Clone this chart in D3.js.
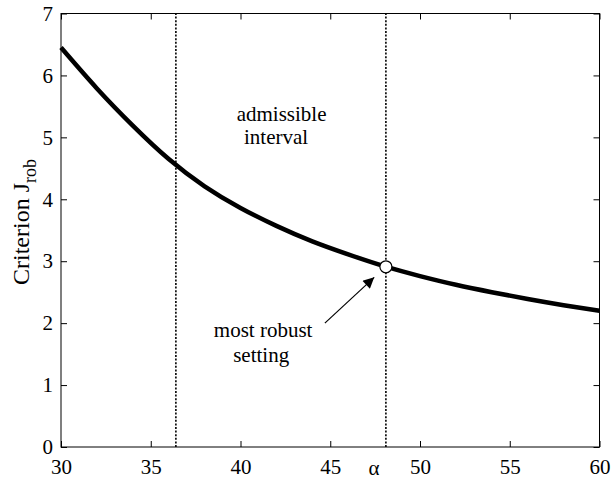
<!DOCTYPE html>
<html>
<head>
<meta charset="utf-8">
<script src="https://cdn.jsdelivr.net/npm/d3@7"></script>
<style>
  html, body { margin: 0; padding: 0; background: #fff; }
  svg { display: block; }
  svg text { font-family: "Liberation Serif", "DejaVu Serif", serif; fill: #000; }
</style>
</head>
<body>
<svg id="chart" width="611" height="481"></svg>
<script>
// Robustness criterion versus the tuning parameter alpha
const alphaValues = [30, 32, 34, 36, 38, 40, 42, 44, 46, 48, 50, 52, 54, 56, 58, 60];
const criterionValues = [6.45, 5.79, 5.19, 4.65, 4.21, 3.86, 3.57, 3.32, 3.11, 2.92, 2.76, 2.62, 2.50, 2.39, 2.29, 2.20];
const xTicks = [30, 35, 40, 45, 50, 55, 60];
const yTicks = [0, 1, 2, 3, 4, 5, 6, 7];
const intervalBounds = [36.4, 48.1];
const optimum = { alpha: 48.1, value: 2.91 };

const serif = "'Liberation Serif', 'DejaVu Serif', serif";
const svg = d3.select("#chart").attr("font-family", serif);
const plot = { left: 61, right: 599.5, top: 13.5, bottom: 447 };

const x = d3.scaleLinear().domain([30, 60]).range([plot.left, plot.right]);
const y = d3.scaleLinear().domain([0, 7]).range([plot.bottom, plot.top]);

const tickLen = 6;
const fmt = d3.format("d");

// Axes with inward ticks on all four sides
svg.append("g").attr("transform", `translate(0,${y(0)})`)
  .call(d3.axisBottom(x).tickValues(xTicks).tickFormat(fmt).tickSizeInner(-tickLen).tickSizeOuter(0).tickPadding(12))
  .call(g => g.select(".domain").remove());
svg.append("g").attr("transform", `translate(0,${y(7)})`)
  .call(d3.axisTop(x).tickValues(xTicks).tickSizeInner(-tickLen).tickSizeOuter(0).tickFormat(""))
  .call(g => g.select(".domain").remove());
svg.append("g").attr("transform", `translate(${x(30)},0)`)
  .call(d3.axisLeft(y).tickValues(yTicks).tickFormat(fmt).tickSizeInner(-tickLen).tickSizeOuter(0).tickPadding(8))
  .call(g => g.select(".domain").remove());
svg.append("g").attr("transform", `translate(${x(60)},0)`)
  .call(d3.axisRight(y).tickValues(yTicks).tickSizeInner(-tickLen).tickSizeOuter(0).tickFormat(""))
  .call(g => g.select(".domain").remove());

svg.selectAll("g").attr("font-family", serif).attr("font-size", null);
svg.selectAll(".tick line").attr("stroke", "#000").attr("stroke-width", 1);
svg.selectAll(".tick text")
  .style("font-family", serif)
  .style("font-size", "21px")
  .attr("fill", "#000");

// Frame box
svg.append("rect")
  .attr("x", x(30)).attr("y", y(7))
  .attr("width", x(60) - x(30)).attr("height", y(0) - y(7))
  .attr("fill", "none").attr("stroke", "#000").attr("stroke-width", 1);

// Admissible interval bounds
svg.selectAll(".bound").data(intervalBounds).join("line")
  .attr("class", "bound")
  .attr("x1", d => x(d)).attr("x2", d => x(d))
  .attr("y1", y(0)).attr("y2", y(7))
  .attr("stroke", "#000").attr("stroke-width", 1.6)
  .attr("stroke-dasharray", "2,1.6");

// Criterion curve
const line = d3.line().x((d, i) => x(alphaValues[i])).y(d => y(d)).curve(d3.curveNatural);
svg.append("path")
  .datum(criterionValues)
  .attr("d", line)
  .attr("fill", "none").attr("stroke", "#000").attr("stroke-width", 4.5);

// Optimum marker
svg.append("circle")
  .attr("cx", x(optimum.alpha)).attr("cy", y(optimum.value)).attr("r", 6)
  .attr("fill", "#fff").attr("stroke", "#000").attr("stroke-width", 1.2);

// Arrow pointing to the optimum
svg.append("defs").append("marker")
  .attr("id", "arrowhead")
  .attr("viewBox", "0 0 10 10").attr("refX", 10).attr("refY", 5)
  .attr("markerWidth", 15).attr("markerHeight", 11).attr("markerUnits", "userSpaceOnUse")
  .attr("orient", "auto")
  .append("path").attr("d", "M0,0 L10,5 L0,10 z").attr("fill", "#000");

svg.append("line")
  .attr("x1", x(44.7)).attr("y1", y(2.0))
  .attr("x2", x(47.45)).attr("y2", y(2.74))
  .attr("stroke", "#000").attr("stroke-width", 1.2)
  .attr("marker-end", "url(#arrowhead)");

// Annotations
const note = (a, v, s) => svg.append("text")
  .attr("x", x(a)).attr("y", y(v))
  .attr("text-anchor", "middle")
  .style("font-family", serif).style("font-size", "21px").text(s);
note(42.29, 5.27, "admissible");
note(41.98, 4.90, "interval");
note(41.26, 1.77, "most robust");
note(41.15, 1.37, "setting");

// Axis titles
svg.append("text").attr("x", 374).attr("y", 475)
  .attr("text-anchor", "middle")
  .style("font-family", serif).style("font-size", "21px").text("α");

const yTitle = svg.append("text")
  .attr("transform", `translate(29,222) rotate(-90)`)
  .attr("text-anchor", "middle")
  .style("font-family", serif).style("font-size", "24px");
yTitle.append("tspan").text("Criterion  J");
yTitle.append("tspan").style("font-size", "18px").attr("dy", 7).text("rob");
</script>
</body>
</html>
